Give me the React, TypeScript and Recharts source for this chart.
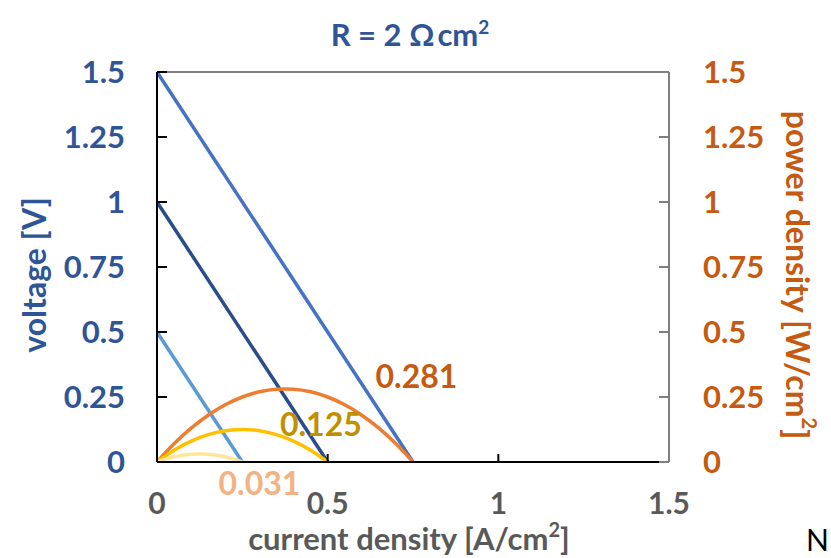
import { ComposedChart, Line, XAxis, YAxis, CartesianGrid, ReferenceLine, ReferenceDot, Label } from "recharts";

// current density [A/cm2] ticks and voltage / power density ticks
const xTicks = [0, 0.5, 1, 1.5];
const yTicks = [0, 0.25, 0.5, 0.75, 1, 1.25, 1.5];

// voltage lines (R = 2 Ohm cm2), open circuit voltages 1.5 / 1 / 0.5 V
const voltage15 = [
  { j: 0, v: 1.5 },
  { j: 0.75, v: 0 },
];
const voltage10 = [
  { j: 0, v: 1.0 },
  { j: 0.5, v: 0 },
];
const voltage05 = [
  { j: 0, v: 0.5 },
  { j: 0.25, v: 0 },
];

// power density curves
const power15 = [
  { j: 0, p: 0 },
  { j: 0.05, p: 0.07 },
  { j: 0.1, p: 0.13 },
  { j: 0.15, p: 0.18 },
  { j: 0.2, p: 0.22 },
  { j: 0.25, p: 0.25 },
  { j: 0.3, p: 0.27 },
  { j: 0.35, p: 0.28 },
  { j: 0.375, p: 0.281 },
  { j: 0.4, p: 0.28 },
  { j: 0.45, p: 0.27 },
  { j: 0.5, p: 0.25 },
  { j: 0.55, p: 0.22 },
  { j: 0.6, p: 0.18 },
  { j: 0.65, p: 0.13 },
  { j: 0.7, p: 0.07 },
  { j: 0.75, p: 0 },
];
const power10 = [
  { j: 0, p: 0 },
  { j: 0.05, p: 0.045 },
  { j: 0.1, p: 0.08 },
  { j: 0.15, p: 0.105 },
  { j: 0.2, p: 0.12 },
  { j: 0.25, p: 0.125 },
  { j: 0.3, p: 0.12 },
  { j: 0.35, p: 0.105 },
  { j: 0.4, p: 0.08 },
  { j: 0.45, p: 0.045 },
  { j: 0.5, p: 0 },
];
const power05 = [
  { j: 0, p: 0 },
  { j: 0.025, p: 0.011 },
  { j: 0.05, p: 0.02 },
  { j: 0.075, p: 0.026 },
  { j: 0.1, p: 0.03 },
  { j: 0.125, p: 0.031 },
  { j: 0.15, p: 0.03 },
  { j: 0.175, p: 0.026 },
  { j: 0.2, p: 0.02 },
  { j: 0.225, p: 0.011 },
  { j: 0.25, p: 0 },
];

// max power annotations
const peakLabels = [
  { j: 0.76, p: 0.33, text: "0.281", color: "#C55A11" },
  { j: 0.48, p: 0.145, text: "0.125", color: "#BF9000" },
  { j: 0.3, p: -0.085, text: "0.031", color: "#F4B183" },
];

const FONT = "Lato, 'Open Sans', sans-serif";
const BLUE = "#2F5597";
const ORANGE = "#C55A11";
const GRAY = "#595959";
const FS = 32;

const App = () => {
  return (
    <div style={{ position: "absolute", left: 0, top: 0, width: 831, height: 558, overflow: "hidden", background: "#fff", fontFamily: FONT }}>
      <div
        style={{
          position: "absolute",
          left: 0,
          width: 820,
          top: 16,
          textAlign: "center",
          color: BLUE,
          fontWeight: 700,
          fontSize: 31,
          lineHeight: "36px",
        }}
      >
        R = 2 Ω<span style={{ marginLeft: 3 }}>cm</span>
        <sup style={{ fontSize: 19, verticalAlign: 12, lineHeight: 0 }}>2</sup>
      </div>
      <ComposedChart width={831} height={558} margin={{ top: 72, right: 0, bottom: 0, left: 0 }}>
        <CartesianGrid horizontal vertical={false} stroke="#d9d9d9" strokeDasharray="2 2" />
        <XAxis
          dataKey="j"
          type="number"
          domain={[0, 1.5]}
          ticks={xTicks}
          allowDataOverflow
          height={96}
          stroke="#000"
          strokeWidth={2}
          tickSize={-8}
          tickMargin={39}
          tick={{ fill: GRAY, fontSize: 30, fontWeight: 700, fontFamily: FONT }}
          tickFormatter={(v: number) => String(v)}
        >
          <Label
            content={({ viewBox }: any) => (
              <text
                x={viewBox.x + viewBox.width / 2 - 4}
                y={viewBox.y + 88}
                textAnchor="middle"
                fill={GRAY}
                fontSize={31}
                fontWeight={700}
                fontFamily={FONT}
              >
                current density [A/cm
                <tspan fontSize={20} dy={-13}>2</tspan>
                <tspan dy={13}>]</tspan>
              </text>
            )}
          />
        </XAxis>
        <YAxis
          yAxisId="v"
          orientation="left"
          type="number"
          domain={[0, 1.5]}
          ticks={yTicks}
          width={157}
          stroke="#000"
          strokeWidth={2}
          tickSize={-10}
          tickMargin={42}
          tick={{ fill: BLUE, fontSize: 31, fontWeight: 700, fontFamily: FONT }}
        >
          <Label
            content={({ viewBox }: any) => {
              const cx = 33;
              const cy = viewBox.y + viewBox.height / 2 + 8;
              return (
                <text
                  x={cx}
                  y={cy}
                  transform={`rotate(-90 ${cx} ${cy})`}
                  textAnchor="middle"
                  dominantBaseline="central"
                  fill={BLUE}
                  fontSize={FS}
                  fontWeight={700}
                  fontFamily={FONT}
                >
                  voltage [V]
                </text>
              );
            }}
          />
        </YAxis>
        <YAxis
          yAxisId="p"
          orientation="right"
          type="number"
          domain={[0, 1.5]}
          ticks={yTicks}
          allowDataOverflow
          width={162}
          stroke="#7f7f7f"
          strokeWidth={2}
          tickSize={-10}
          tickMargin={44}
          tick={{ fill: ORANGE, fontSize: 31, fontWeight: 700, fontFamily: FONT, textAnchor: "start" }}
        >
          <Label
            content={({ viewBox }: any) => {
              const cx = 798;
              const cy = viewBox.y + viewBox.height / 2 + 8;
              return (
                <text
                  x={cx}
                  y={cy}
                  transform={`rotate(90 ${cx} ${cy})`}
                  textAnchor="middle"
                  dominantBaseline="central"
                  fill={ORANGE}
                  fontSize={FS}
                  fontWeight={700}
                  fontFamily={FONT}
                >
                  power density [W/cm
                  <tspan fontSize={20} dy={-12}>2</tspan>
                  <tspan dy={12}>]</tspan>
                </text>
              );
            }}
          />
        </YAxis>
        <ReferenceLine yAxisId="v" y={1.5} stroke="#7f7f7f" strokeWidth={2} />

        <Line yAxisId="v" data={voltage15} dataKey="v" stroke="#4472C4" strokeWidth={3.5} dot={false} isAnimationActive={false} />
        <Line yAxisId="v" data={voltage10} dataKey="v" stroke="#2B4C8C" strokeWidth={3.5} dot={false} isAnimationActive={false} />
        <Line yAxisId="v" data={voltage05} dataKey="v" stroke="#5B9BD5" strokeWidth={3.5} dot={false} isAnimationActive={false} />

        <Line yAxisId="p" data={power15} dataKey="p" type="monotone" stroke="#ED7D31" strokeWidth={3.5} dot={false} isAnimationActive={false} />
        <Line yAxisId="p" data={power10} dataKey="p" type="monotone" stroke="#FFC000" strokeWidth={3.5} dot={false} isAnimationActive={false} />
        <Line yAxisId="p" data={power05} dataKey="p" type="monotone" stroke="#FFE699" strokeWidth={3.5} dot={false} isAnimationActive={false} />

        {peakLabels.map((d) => (
          <ReferenceDot
            key={d.text}
            yAxisId="p"
            x={d.j}
            y={d.p}
            r={0}
            ifOverflow="visible"
            label={{
              value: d.text,
              position: "center",
              fill: d.color,
              fontSize: FS,
              fontWeight: 700,
              fontFamily: FONT,
            }}
          />
        ))}
      </ComposedChart>
      <div
        style={{
          position: "absolute",
          left: 806,
          top: 524,
          fontSize: 30,
          fontWeight: 400,
          color: "#000",
          fontFamily: FONT,
          lineHeight: "30px",
        }}
      >
        N
      </div>
    </div>
  );
};

export default App;
